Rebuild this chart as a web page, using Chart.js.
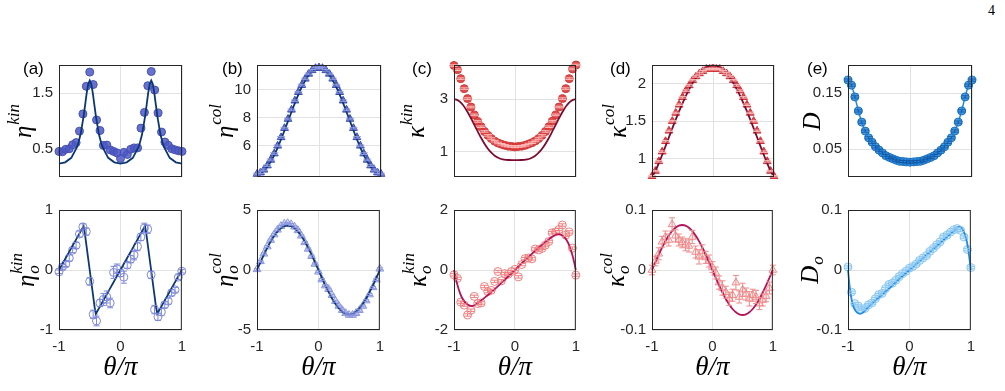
<!DOCTYPE html>
<html>
<head>
<meta charset="utf-8">
<script src="https://cdn.jsdelivr.net/npm/chart.js@4.4.1/dist/chart.umd.min.js"></script>
<style>
  html, body { margin: 0; padding: 0; background: #fff; }
  body { width: 1005px; height: 391px; position: relative; overflow: hidden; }
  canvas { position: absolute; }
  #pagenum { position: absolute; left: 988px; top: 3px; font: 14px "Liberation Serif", serif; color: #000; }
</style>
</head>
<body>
<div id="pagenum">4</div>
<script>
// theta / pi grid of the measured points and of some fit curves
const thetaPts = [-1, -0.944, -0.889, -0.833, -0.778, -0.722, -0.667, -0.611, -0.556, -0.5, -0.444, -0.389, -0.333, -0.278, -0.222, -0.167, -0.111, -0.056, 0,
                  0.056, 0.111, 0.167, 0.222, 0.278, 0.333, 0.389, 0.444, 0.5, 0.556, 0.611, 0.667, 0.722, 0.778, 0.833, 0.889, 0.944, 1];
const thetaFine = [-1, -0.95, -0.9, -0.85, -0.8, -0.75, -0.7, -0.65, -0.6, -0.55, -0.5, -0.45, -0.4, -0.35, -0.3, -0.25, -0.2, -0.15, -0.1, -0.05, 0,
                   0.05, 0.1, 0.15, 0.2, 0.25, 0.3, 0.35, 0.4, 0.45, 0.5, 0.55, 0.6, 0.65, 0.7, 0.75, 0.8, 0.85, 0.9, 0.95, 1];
const xTicks = [-1, 0, 1];

// (a) eta^kin and eta_o^kin
const aTopData = [0.457, 0.451, 0.495, 0.505, 0.576, 0.614, 0.819, 1.127, 1.619, 1.873, 1.651, 1.019, 0.83, 0.565, 0.57, 0.484, 0.457, 0.43, 0.332,
                  0.44, 0.403, 0.495, 0.52, 0.52, 0.873, 1.154, 1.63, 1.884, 1.554, 1.143, 0.803, 0.624, 0.565, 0.505, 0.484, 0.468, 0.457];
const aTopFitX = [-1, -0.9, -0.8, -0.7, -0.65, -0.6, -0.575, -0.55, -0.525, -0.5, -0.475, -0.45, -0.425, -0.4, -0.35, -0.3, -0.2, -0.1, 0,
                  0.1, 0.2, 0.3, 0.35, 0.4, 0.425, 0.45, 0.475, 0.5, 0.525, 0.55, 0.575, 0.6, 0.65, 0.7, 0.8, 0.9, 1];
const aTopFit = [0.24, 0.262, 0.342, 0.55, 0.758, 1.083, 1.289, 1.496, 1.66, 1.722, 1.66, 1.496, 1.289, 1.083, 0.758, 0.55, 0.342, 0.262, 0.24,
                 0.262, 0.342, 0.55, 0.758, 1.083, 1.289, 1.496, 1.66, 1.722, 1.66, 1.496, 1.289, 1.083, 0.758, 0.55, 0.342, 0.262, 0.24];
const aTopTicks = [0.5, 1.5];
const aBotData = [-0.03, 0.05, 0.1, 0.2, 0.33, 0.41, 0.6, 0.72, 0.64, -0.19, -0.74, -0.85, -0.55, -0.49, -0.45, -0.55, -0.04, 0.02, -0.05,
                  -0.12, 0.08, 0.18, 0.25, 0.39, 0.55, 0.7, 0.68, -0.08, -0.66, -0.78, -0.7, -0.58, -0.52, -0.38, -0.33, -0.12, -0.02];
const aBotErr = [0.03, 0.04, 0.04, 0.05, 0.04, 0.05, 0.05, 0.05, 0.06, 0.06, 0.07, 0.08, 0.06, 0.1, 0.1, 0.08, 0.1, 0.08, 0.06,
                 0.1, 0.05, 0.06, 0.08, 0.07, 0.06, 0.08, 0.07, 0.06, 0.07, 0.06, 0.06, 0.05, 0.05, 0.05, 0.04, 0.04, 0.03];
const aBotFitX = [-1, -0.8, -0.65, -0.6, -0.58, -0.5, -0.42, -0.4, -0.35, -0.2, 0, 0.2, 0.35, 0.4, 0.42, 0.5, 0.58, 0.6, 0.65, 0.8, 1];
const aBotFit = [0, 0.365, 0.64, 0.73, 0.62, 0, -0.62, -0.73, -0.64, -0.365, 0, 0.365, 0.64, 0.73, 0.62, 0, -0.62, -0.73, -0.64, -0.365, 0];
const aBotTicks = [-1, 0, 1];

// (b) eta^col and eta_o^col
const bTopData = [4.0, 4.1, 4.3, 4.6, 5.0, 5.45, 6.0, 6.6, 7.25, 7.9, 8.55, 9.2, 9.8, 10.3, 10.75, 11.1, 11.35, 11.5, 11.55,
                  11.5, 11.35, 11.1, 10.75, 10.3, 9.8, 9.2, 8.55, 7.9, 7.25, 6.6, 6.0, 5.45, 5.0, 4.6, 4.3, 4.1, 4.0];
const bTopFit = [4.0, 4.057, 4.226, 4.503, 4.878, 5.339, 5.875, 6.468, 7.099, 7.75, 8.401, 9.033, 9.625, 10.161, 10.623, 10.998, 11.274, 11.443, 11.5,
                 11.443, 11.274, 10.998, 10.623, 10.161, 9.625, 9.033, 8.401, 7.75, 7.099, 6.468, 5.875, 5.339, 4.878, 4.503, 4.226, 4.057, 4.0];
const bTopTicks = [6, 8, 10];
const bBotData = [0.05, 0.72, 1.35, 1.95, 2.5, 2.95, 3.35, 3.65, 3.85, 3.9, 3.8, 3.6, 3.3, 2.85, 2.3, 1.75, 1.15, 0.5, -0.15,
                  -0.8, -1.3, -1.6, -2.1, -2.6, -3.0, -3.35, -3.6, -3.75, -3.75, -3.6, -3.35, -3.0, -2.55, -2.05, -1.45, -0.8, 0.1];
const bBotFit = [0, 0.642, 1.265, 1.85, 2.378, 2.834, 3.204, 3.477, 3.644, 3.7, 3.644, 3.477, 3.204, 2.834, 2.378, 1.85, 1.265, 0.642, 0,
                 -0.642, -1.265, -1.85, -2.378, -2.834, -3.204, -3.477, -3.644, -3.7, -3.644, -3.477, -3.204, -2.834, -2.378, -1.85, -1.265, -0.642, 0];
const bBotTicks = [-5, 0, 5];

// (c) kappa^kin and kappa_o^kin
const cTopData = [4.28, 4.12, 3.78, 3.4, 3.02, 2.7, 2.4, 2.15, 1.95, 1.77, 1.62, 1.5, 1.4, 1.33, 1.28, 1.24, 1.21, 1.2, 1.18,
                  1.2, 1.21, 1.24, 1.29, 1.34, 1.41, 1.5, 1.62, 1.77, 1.95, 2.16, 2.4, 2.7, 3.02, 3.4, 3.78, 4.15, 4.3];
const cTopFit = [3.0, 2.972, 2.893, 2.766, 2.596, 2.397, 2.176, 1.947, 1.717, 1.499, 1.302, 1.13, 0.988, 0.877, 0.796, 0.74, 0.707, 0.689, 0.682, 0.68, 0.68,
                 0.68, 0.682, 0.689, 0.707, 0.74, 0.796, 0.877, 0.988, 1.13, 1.302, 1.499, 1.717, 1.947, 2.176, 2.397, 2.596, 2.766, 2.893, 2.972, 3.0];
const cTopTicks = [1, 3];
const cBotData = [-0.16, -0.28, -1.07, -1.17, -1.5, -1.34, -0.88, -1.12, -1.1, -0.55, -0.72, -0.68, -0.38, -0.05, -0.36, -0.12, -0.14, -0.05, 0.02,
                  -0.23, 0.18, 0.38, 0.4, 0.37, 0.7, 0.67, 0.72, 0.83, 0.95, 1.24, 1.27, 1.35, 1.5, 1.16, 1.27, 0.73, -0.17];
const cBotFitX = [-1, -0.97, -0.95, -0.9, -0.85, -0.8, -0.75, -0.7, -0.65, -0.6, -0.5, -0.4, -0.3, -0.2, -0.1, 0,
                  0.1, 0.2, 0.3, 0.4, 0.5, 0.6, 0.65, 0.7, 0.75, 0.8, 0.85, 0.9, 0.95, 0.97, 1];
const cBotFit = [0, -0.28, -0.45, -0.78, -0.99, -1.12, -1.18, -1.2, -1.16, -1.09, -0.93, -0.76, -0.58, -0.39, -0.2, 0,
                 0.2, 0.39, 0.58, 0.76, 0.93, 1.09, 1.16, 1.2, 1.18, 1.12, 0.99, 0.78, 0.45, 0.28, 0];
const cBotTicks = [-2, 0, 2];

// (d) kappa^col and kappa_o^col
const dTopData = [0.76, 0.83, 0.96, 1.09, 1.23, 1.37, 1.5, 1.61, 1.72, 1.82, 1.91, 1.98, 2.05, 2.1, 2.14, 2.17, 2.2, 2.2, 2.2,
                  2.2, 2.2, 2.17, 2.14, 2.1, 2.05, 1.98, 1.91, 1.82, 1.72, 1.61, 1.5, 1.37, 1.23, 1.09, 0.96, 0.83, 0.76];
const dTopFit = [0.75, 0.821, 0.912, 1.012, 1.116, 1.224, 1.332, 1.439, 1.543, 1.644, 1.74, 1.83, 1.913, 1.989, 2.056, 2.114, 2.162, 2.2, 2.228, 2.244, 2.25,
                 2.244, 2.228, 2.2, 2.162, 2.114, 2.056, 1.989, 1.913, 1.83, 1.74, 1.644, 1.543, 1.439, 1.332, 1.224, 1.116, 1.012, 0.912, 0.821, 0.75];
const dTopTicks = [1, 1.5, 2];
const dBotData = [0.0, 0.015, 0.027, 0.047, 0.055, 0.05, 0.076, 0.057, 0.05, 0.046, 0.042, 0.04, 0.055, 0.03, 0.022, 0.031, 0.021, 0.015, 0.005,
                  -0.005, -0.021, -0.03, -0.037, -0.048, -0.042, -0.021, -0.045, -0.033, -0.04, -0.048, -0.042, -0.045, -0.056, -0.05, -0.044, -0.03, 0.0];
const dBotErr = [0.008, 0.008, 0.01, 0.009, 0.01, 0.01, 0.011, 0.01, 0.01, 0.009, 0.01, 0.01, 0.011, 0.01, 0.012, 0.011, 0.01, 0.01, 0.009,
                 0.01, 0.011, 0.012, 0.01, 0.011, 0.01, 0.012, 0.01, 0.011, 0.01, 0.012, 0.01, 0.011, 0.01, 0.01, 0.009, 0.01, 0.008];
const dBotFit = [0, 0.013, 0.0257, 0.0375, 0.0482, 0.0575, 0.065, 0.0705, 0.0739, 0.075, 0.0739, 0.0705, 0.065, 0.0575, 0.0482, 0.0375, 0.0257, 0.013, 0,
                 -0.013, -0.0257, -0.0375, -0.0482, -0.0575, -0.065, -0.0705, -0.0739, -0.075, -0.0739, -0.0705, -0.065, -0.0575, -0.0482, -0.0375, -0.0257, -0.013, 0];
const dBotTicks = [-0.1, 0, 0.1];

// (e) D and D_o
const eTopData = [0.173, 0.164, 0.143, 0.118, 0.098, 0.082, 0.070, 0.062, 0.054, 0.048, 0.043, 0.038, 0.035, 0.0325, 0.030, 0.028, 0.0276, 0.027, 0.0265,
                  0.027, 0.0276, 0.028, 0.030, 0.0325, 0.035, 0.038, 0.043, 0.048, 0.054, 0.062, 0.070, 0.082, 0.098, 0.118, 0.143, 0.164, 0.173];
const eTopTicks = [0.05, 0.15];
const eBotData = [0.005, -0.037, -0.056, -0.06, -0.066, -0.064, -0.058, -0.055, -0.048, -0.041, -0.039, -0.031, -0.024, -0.022, -0.017, -0.011, -0.006, -0.002, 0.003,
                  0.006, 0.01, 0.016, 0.02, 0.024, 0.031, 0.036, 0.042, 0.047, 0.055, 0.058, 0.063, 0.067, 0.069, 0.066, 0.055, 0.034, 0.004];
const eBotFitX = [-1, -0.97, -0.94, -0.9, -0.85, -0.8, -0.75, -0.7, -0.6, -0.5, -0.4, -0.3, -0.2, -0.1, 0,
                  0.1, 0.2, 0.3, 0.4, 0.5, 0.6, 0.7, 0.75, 0.8, 0.85, 0.9, 0.94, 0.97, 1];
const eBotFit = [0, -0.03, -0.05, -0.064, -0.071, -0.073, -0.07, -0.065, -0.055, -0.046, -0.037, -0.028, -0.018, -0.009, 0,
                 0.009, 0.018, 0.027, 0.036, 0.045, 0.054, 0.063, 0.068, 0.072, 0.07, 0.06, 0.045, 0.025, 0];
const eBotTicks = [-0.1, 0, 0.1];

const NAVY = '#0b3875', MAROON = '#7b0a2e', CRIMSON = '#b3145c', BLUE = '#1c8ce3';
const INK = '#262626';

function pts(xs, ys) {
    return xs.map((x, i) => ({ x: x, y: ys[i] }));
}

function fitLine(xs, ys, color, linear) {
    return {
        data: pts(xs, ys), showLine: true, borderColor: color, borderWidth: 1.8,
        pointRadius: 0, cubicInterpolationMode: linear ? 'default' : 'monotone', tension: 0, clip: false
    };
}

function markers(ys, style, fill, edge, r, err, errColor, capW) {
    return {
        data: pts(thetaPts, ys), showLine: false, pointStyle: style, pointRadius: r,
        pointBackgroundColor: fill, pointBorderColor: edge, pointBorderWidth: 1, clip: false,
        errors: err, errColor: errColor, capW: capW
    };
}

// math-style axis label: base glyph with superscript / subscript
function drawMath(ctx, lab, cx, cy) {
    const big = 'italic 25px "Liberation Serif"', small = 'italic 17px "Liberation Serif"';
    ctx.font = big;
    const bw = ctx.measureText(lab.base).width;
    ctx.font = small;
    const sw = Math.max(lab.sup ? ctx.measureText(lab.sup).width : 0, lab.sub ? ctx.measureText(lab.sub).width : 0);
    const total = bw + sw + 1;
    ctx.save();
    ctx.translate(cx, cy);
    ctx.rotate(-Math.PI / 2);
    ctx.fillStyle = '#000';
    ctx.textBaseline = 'alphabetic';
    ctx.textAlign = 'left';
    ctx.font = big;
    ctx.fillText(lab.base, -total / 2, 6);
    ctx.font = small;
    if (lab.sup) ctx.fillText(lab.sup, -total / 2 + bw + 1, -6);
    if (lab.sub) ctx.fillText(lab.sub, -total / 2 + bw + 1, 11);
    ctx.restore();
}

const panelDecor = {
    id: 'panelDecor',
    afterDatasetsDraw(chart) {
        const ctx = chart.ctx, ys = chart.scales.y;
        chart.data.datasets.forEach((ds, i) => {
            if (ds.errors === undefined) return;
            const meta = chart.getDatasetMeta(i);
            ctx.save();
            ctx.strokeStyle = ds.errColor;
            ctx.lineWidth = 1;
            meta.data.forEach((pt, j) => {
                const e = Array.isArray(ds.errors) ? ds.errors[j] : ds.errors;
                const v = ds.data[j].y;
                const y1 = ys.getPixelForValue(v - e), y2 = ys.getPixelForValue(v + e);
                ctx.beginPath();
                ctx.moveTo(pt.x, y1); ctx.lineTo(pt.x, y2);
                ctx.moveTo(pt.x - ds.capW, y1); ctx.lineTo(pt.x + ds.capW, y1);
                ctx.moveTo(pt.x - ds.capW, y2); ctx.lineTo(pt.x + ds.capW, y2);
                ctx.stroke();
            });
            ctx.restore();
        });
    },
    afterDraw(chart, args, p) {
        const ctx = chart.ctx, a = chart.chartArea;
        ctx.save();
        ctx.strokeStyle = INK;
        ctx.lineWidth = 1;
        ctx.strokeRect(a.left + 0.5, a.top + 0.5, a.right - a.left - 1, a.bottom - a.top - 1);
        drawMath(ctx, p.ylab, a.left - p.ylabOff, (a.top + a.bottom) / 2);
        if (p.letter) {
            ctx.fillStyle = '#000';
            ctx.font = '17px "Liberation Sans"';
            ctx.textAlign = 'left';
            ctx.textBaseline = 'alphabetic';
            ctx.fillText(p.letter, a.left - p.letterOff, a.top + 9);
        }
        if (p.row === 1) {
            ctx.fillStyle = '#000';
            ctx.font = 'italic 27px "Liberation Serif"';
            ctx.textAlign = 'center';
            ctx.textBaseline = 'alphabetic';
            ctx.fillText('θ/π', (a.left + a.right) / 2, a.bottom + 45);
        }
        ctx.restore();
    }
};

function makePanel(p) {
    const top = p.row === 0 ? 50 : 195;
    const h = p.row === 0 ? 142 : 196;
    const padTop = p.row === 0 ? 14 : 11;
    const padBottom = p.row === 0 ? 5 : 0;
    const xH = p.row === 0 ? 0 : 61;
    const w = 60 + p.width + 12;
    const cv = document.createElement('canvas');
    cv.width = w;
    cv.height = h;
    cv.style.left = (p.left - 60) + 'px';
    cv.style.top = top + 'px';
    cv.style.width = w + 'px';
    cv.style.height = h + 'px';
    document.body.appendChild(cv);

    new Chart(cv.getContext('2d'), {
        type: 'scatter',
        data: { datasets: p.datasets },
        options: {
            responsive: false,
            animation: false,
            devicePixelRatio: 1,
            layout: { padding: { top: padTop, bottom: padBottom, left: 0, right: 12 } },
            plugins: { legend: { display: false }, tooltip: { enabled: false }, panelDecor: p },
            scales: {
                x: {
                    type: 'linear', min: -1, max: 1,
                    afterBuildTicks: s => { s.ticks = xTicks.map(v => ({ value: v })); },
                    afterFit: s => { s.height = xH; },
                    grid: { color: '#e2e2e2', drawTicks: false },
                    border: { display: false },
                    ticks: {
                        display: p.row === 1, padding: 8, color: INK,
                        font: { family: 'Liberation Sans', size: 15 },
                        callback: v => String(v)
                    }
                },
                y: {
                    type: 'linear', min: p.yMin, max: p.yMax,
                    afterBuildTicks: s => { s.ticks = p.yTicks.map(v => ({ value: v })); },
                    afterFit: s => { s.width = 60; },
                    grid: { color: '#e2e2e2', drawTicks: false },
                    border: { display: false },
                    ticks: {
                        padding: 6, color: INK,
                        font: { family: 'Liberation Sans', size: 15 },
                        callback: v => String(v)
                    }
                }
            }
        },
        plugins: [panelDecor]
    });
}

const panels = [
    { row: 0, left: 59, width: 123, yMin: 0, yMax: 2, yTicks: aTopTicks, letter: '(a)', letterOff: 36,
      ylab: { base: 'η', sup: 'kin' }, ylabOff: 34,
      datasets: [fitLine(aTopFitX, aTopFit, NAVY, true),
                 markers(aTopData, 'circle', 'rgba(77,88,196,0.85)', '#4450b5', 4)] },
    { row: 0, left: 257, width: 124, yMin: 3.79, yMax: 11.73, yTicks: bTopTicks, letter: '(b)', letterOff: 35,
      ylab: { base: 'η', sup: 'col' }, ylabOff: 30,
      datasets: [fitLine(thetaPts, bTopFit, NAVY),
                 markers(bTopData, 'triangle', 'rgba(62,78,186,0.85)', '#3a4bb5', 4.5, 0.06, 'rgba(150,160,230,0.9)', 4)] },
    { row: 0, left: 454, width: 122, yMin: 0.035, yMax: 4.3, yTicks: cTopTicks, letter: '(c)', letterOff: 42,
      ylab: { base: 'κ', sup: 'kin' }, ylabOff: 36,
      datasets: [fitLine(thetaFine, cTopFit, MAROON),
                 markers(cTopData, 'circle', 'rgba(220,55,55,0.9)', '#d23a3a', 4, 0.03, 'rgba(255,190,190,0.95)', 4)] },
    { row: 0, left: 652, width: 122, yMin: 0.75, yMax: 2.254, yTicks: dTopTicks, letter: '(d)', letterOff: 42,
      ylab: { base: 'κ', sup: 'col' }, ylabOff: 32,
      datasets: [fitLine(thetaFine, dTopFit, MAROON),
                 markers(dTopData, 'triangle', 'rgba(214,50,55,0.9)', '#cf3237', 4.5, 0.01, 'rgba(255,190,190,0.95)', 4)] },
    { row: 0, left: 848, width: 124, yMin: 0, yMax: 0.2, yTicks: eTopTicks, letter: '(e)', letterOff: 41,
      ylab: { base: 'D' }, ylabOff: 34,
      datasets: [Object.assign(markers(eTopData, 'circle', 'rgba(40,140,220,0.85)', '#1b6fbf', 4, 0.002, 'rgba(20,90,170,0.9)', 4),
                               { showLine: true, borderColor: BLUE, borderWidth: 1.5, cubicInterpolationMode: 'monotone' })] },

    { row: 1, left: 59, width: 123, yMin: -1, yMax: 1, yTicks: aBotTicks,
      ylab: { base: 'η', sup: 'kin', sub: 'o' }, ylabOff: 31,
      datasets: [fitLine(aBotFitX, aBotFit, NAVY, true),
                 markers(aBotData, 'circle', 'rgba(255,255,255,0)', '#7f89dc', 4, aBotErr, '#7f89dc', 3)] },
    { row: 1, left: 257, width: 123, yMin: -5, yMax: 5, yTicks: bBotTicks,
      ylab: { base: 'η', sup: 'col', sub: 'o' }, ylabOff: 30,
      datasets: [fitLine(thetaPts, bBotFit, NAVY),
                 markers(bBotData, 'triangle', 'rgba(138,149,224,0.25)', '#8a95e0', 4.5, 0.08, '#8a95e0', 3)] },
    { row: 1, left: 454, width: 122, yMin: -2, yMax: 2, yTicks: cBotTicks,
      ylab: { base: 'κ', sup: 'kin', sub: 'o' }, ylabOff: 34,
      datasets: [fitLine(cBotFitX, cBotFit, CRIMSON),
                 markers(cBotData, 'circle', 'rgba(255,255,255,0)', '#ef7f7f', 4, 0.04, '#ef7f7f', 3.5)] },
    { row: 1, left: 652, width: 121, yMin: -0.1, yMax: 0.1, yTicks: dBotTicks,
      ylab: { base: 'κ', sup: 'col', sub: 'o' }, ylabOff: 34,
      datasets: [fitLine(thetaPts, dBotFit, CRIMSON),
                 markers(dBotData, 'triangle', 'rgba(240,138,138,0.15)', '#f08a8a', 4.5, dBotErr, '#f08a8a', 3)] },
    { row: 1, left: 848, width: 123, yMin: -0.1, yMax: 0.1, yTicks: eBotTicks,
      ylab: { base: 'D', sub: 'o' }, ylabOff: 36,
      datasets: [fitLine(eBotFitX, eBotFit, BLUE),
                 markers(eBotData, 'circle', 'rgba(142,201,242,0.3)', '#8ec9f2', 4, 0.002, '#8ec9f2', 4)] }
];

panels.forEach(makePanel);
</script>
</body>
</html>
